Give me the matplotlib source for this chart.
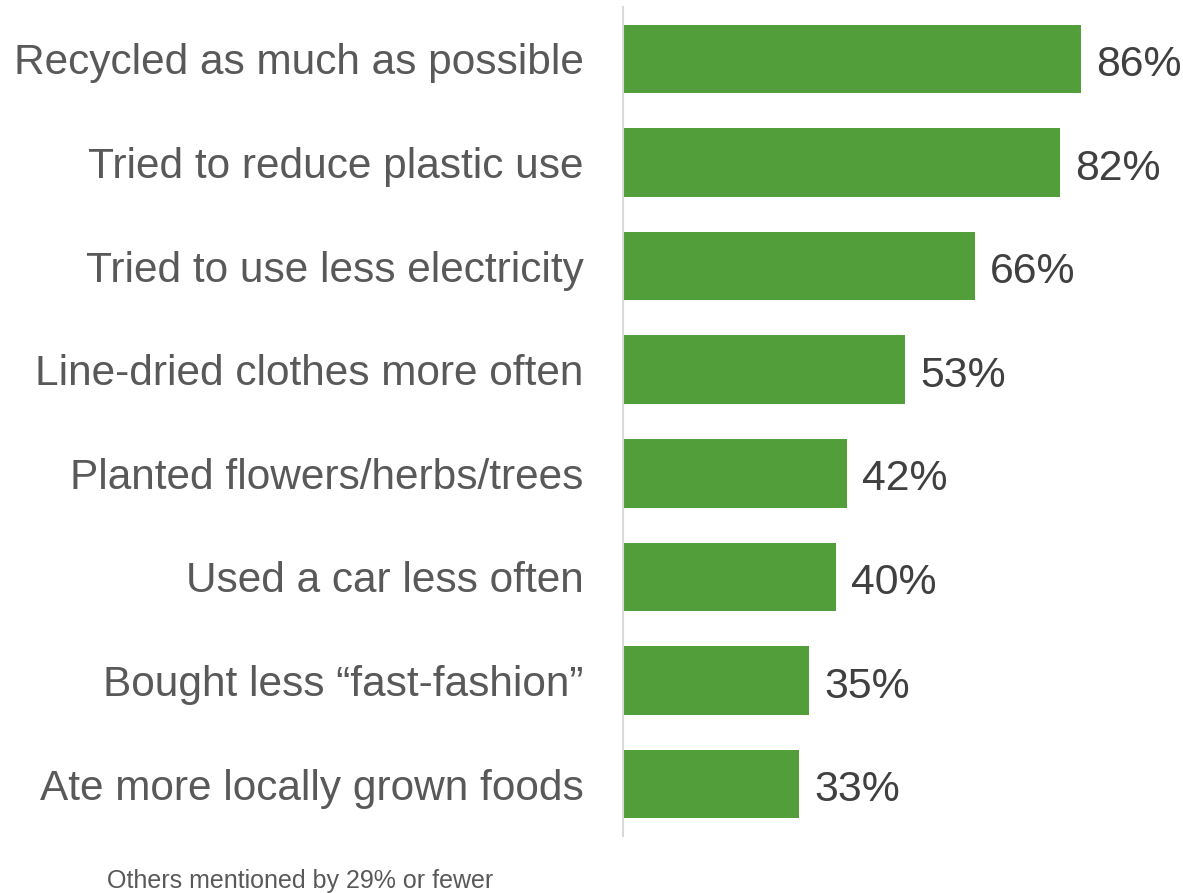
import matplotlib.pyplot as plt

plt.rcParams['font.family'] = ['Liberation Sans', 'DejaVu Sans']

labels = ['Recycled as much as possible', 'Tried to reduce plastic use',
          'Tried to use less electricity', 'Line-dried clothes more often',
          'Planted flowers/herbs/trees', 'Used a car less often',
          'Bought less \u201cfast-fashion\u201d', 'Ate more locally grown foods']
values = [86, 82, 66, 53, 42, 40, 35, 33]
note = 'Others mentioned by 29% or fewer'

fig = plt.figure(figsize=(11.83, 8.93), dpi=100)
ax = fig.add_axes([623 / 1183, 1 - 836 / 893, 532.6 / 1183, 829 / 893])

pos = list(range(len(labels)))
ax.barh(pos, values, height=0.66, color='#529E3A')
ax.set_ylim(len(labels) - 0.5, -0.5)
ax.set_xlim(0, 100)

# value labels sit a little below bar centre, like the original
for p, v in zip(pos, values):
    ax.text(v + 2.9, p + 0.165, f'{v}%', va='baseline', ha='left', fontsize=30.8, color='#404040')

ax.set_yticks(pos)
ax.set_yticklabels(labels, fontsize=30.5, color='#595959')
ax.tick_params(axis='y', length=0, pad=28.5)
ax.set_xticks([])
for s in ['top', 'right', 'bottom']:
    ax.spines[s].set_visible(False)
ax.spines['left'].set_color('#D9D9D9')
ax.spines['left'].set_linewidth(1.5)

fig.text(107 / 1183, 1 - 881 / 893, note, fontsize=18, color='#595959', va='center', ha='left')

fig.savefig('out.png', dpi=100)
